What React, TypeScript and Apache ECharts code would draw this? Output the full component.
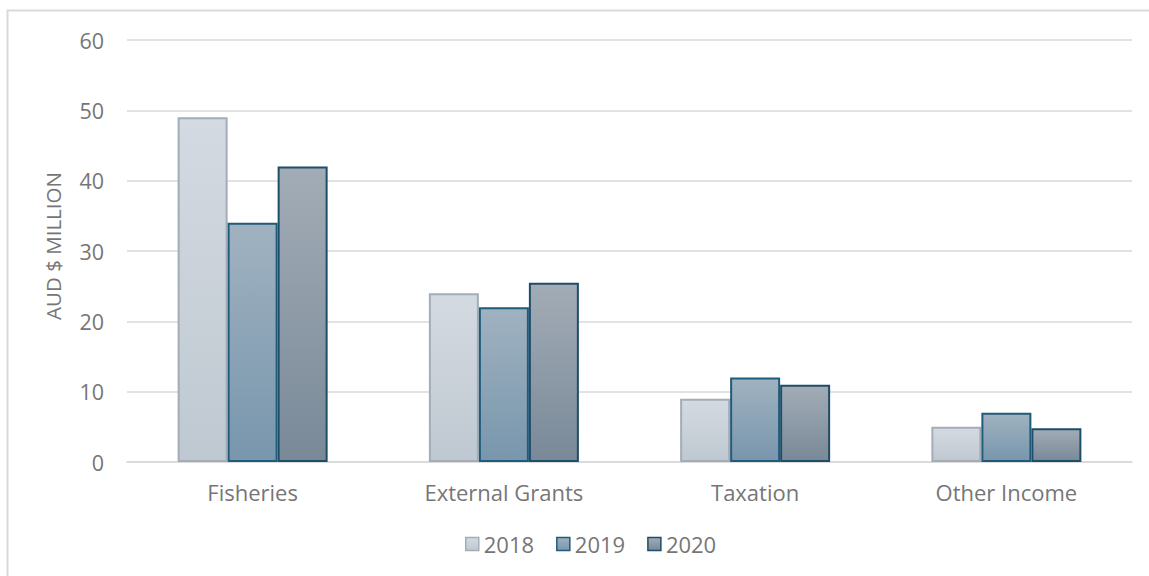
import React, { useEffect, useRef } from "react";
import * as echarts from "echarts";

const categories = ["Fisheries", "External Grants", "Taxation", "Other Income"];
const seriesNames = ["2018", "2019", "2020"];
const values2018 = [49, 24, 9, 5];
const values2019 = [34, 22, 12, 7];
const values2020 = [42, 25.5, 11, 4.8];

const grad = (top: string, bottom: string) =>
  new echarts.graphic.LinearGradient(0, 0, 0, 1, [
    { offset: 0, color: top },
    { offset: 1, color: bottom },
  ]);

export default function App() {
  const ref = useRef<HTMLDivElement>(null);
  useEffect(() => {
    if (!ref.current) return;
    const chart = echarts.init(ref.current, undefined, { renderer: "svg" });
    const font = "Open Sans, Liberation Sans, sans-serif";
    const styles = [
      { fill: grad("#D4DAE1", "#BFC8D1"), border: "#A2ADB8" },
      { fill: grad("#A0B2C0", "#7896AD"), border: "#1F5B7A" },
      { fill: grad("#A2ACB6", "#798998"), border: "#1E4D6A" },
    ];
    const data = [values2018, values2019, values2020];
    chart.setOption({
      animation: false,
      textStyle: { fontFamily: font },
      graphic: [
        {
          type: "rect",
          shape: { x: 7.5, y: 10.5, width: 1200, height: 700 },
          style: { fill: "none", stroke: "#D9D9D9", lineWidth: 2 },
          silent: true,
        },
      ],
      grid: { left: 127, right: 17, top: 40, bottom: 114, containLabel: false },
      legend: {
        bottom: 16,
        left: 460,
        itemWidth: 13,
        itemHeight: 13,
        itemGap: 22,
        icon: "rect",
        textStyle: { fontSize: 22, color: "#767676", fontFamily: font, padding: [0, 0, 0, 0] },
        data: seriesNames.map((n, i) => ({
          name: n,
          itemStyle: { color: styles[i].fill, borderColor: styles[i].border, borderWidth: 1.5 },
        })),
      },
      xAxis: {
        type: "category",
        data: categories,
        axisLine: { lineStyle: { color: "#D9D9D9", width: 1.5 } },
        axisTick: { show: false },
        axisLabel: { fontSize: 22, color: "#767676", margin: 19, fontFamily: font },
      },
      yAxis: {
        type: "value",
        min: 0,
        max: 60,
        interval: 10,
        name: "AUD $ MILLION",
        nameLocation: "middle",
        nameGap: 64,
        nameTextStyle: { fontSize: 20.5, color: "#767676", fontFamily: font, padding: [0, 0, 0, 10] },
        axisLabel: { fontSize: 21.5, color: "#767676", margin: 23, fontFamily: font },
        splitLine: { lineStyle: { color: "#D9D9D9", width: 1.5 } },
      },
      series: seriesNames.map((n, i) => ({
        name: n,
        type: "bar",
        data: data[i],
        barWidth: 50,
        barGap: "0%",
        itemStyle: { color: styles[i].fill, borderColor: styles[i].border, borderWidth: 2 },
      })),
    });
    return () => chart.dispose();
  }, []);
  return (
    <div
      ref={ref}
      style={{ position: "absolute", left: 0, top: 0, width: 1149, height: 576, background: "#fff" }}
    />
  );
}
